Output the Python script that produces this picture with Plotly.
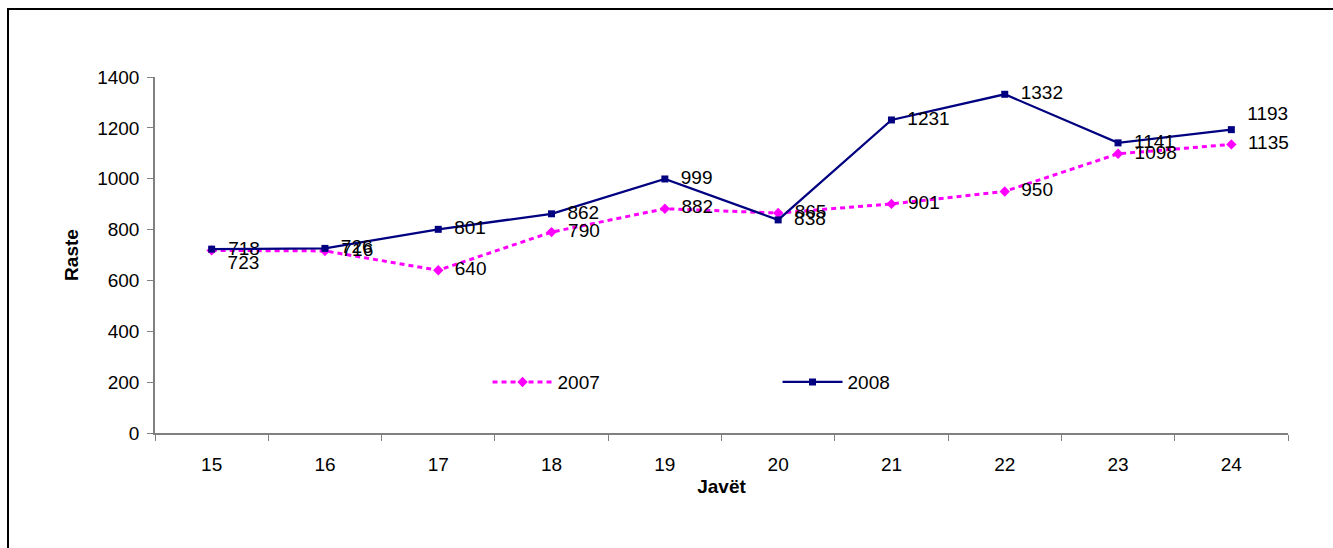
import plotly.graph_objects as go

weeks = ["15", "16", "17", "18", "19", "20", "21", "22", "23", "24"]
cases_2007 = [718, 716, 640, 790, 882, 865, 901, 950, 1098, 1135]
cases_2008 = [723, 726, 801, 862, 999, 838, 1231, 1332, 1141, 1193]
y_ticks = [0, 200, 400, 600, 800, 1000, 1200, 1400]

FONT = "Liberation Sans, Arial, sans-serif"
PAD = "\u00a0\u00a0"

pos_2007 = ["middle right"] * len(weeks)
pos_2008 = ["middle right"] * len(weeks)
pos_2008[0] = "bottom right"
pos_2008[-1] = "top right"

fig = go.Figure()
fig.add_trace(go.Scatter(
    x=weeks, y=cases_2007, name="2007", mode="lines+markers+text",
    line=dict(color="#FF00FF", width=3, dash="5px,4px"),
    marker=dict(symbol="diamond", size=8, color="#FF00FF"),
    text=[PAD + str(v) for v in cases_2007], textposition=pos_2007,
    textfont=dict(family=FONT, size=19, color="black"),
    cliponaxis=False,
))
fig.add_trace(go.Scatter(
    x=weeks, y=cases_2008, name="2008", mode="lines+markers+text",
    line=dict(color="#000080", width=2.25),
    marker=dict(symbol="square", size=7, color="#000080"),
    text=[PAD + str(v) for v in cases_2008], textposition=pos_2008,
    textfont=dict(family=FONT, size=19, color="black"),
    cliponaxis=False,
))

fig.update_layout(
    width=1333, height=548,
    margin=dict(l=155, r=45, t=77, b=115),
    paper_bgcolor="white", plot_bgcolor="white",
    font=dict(family=FONT, size=19, color="black"),
    showlegend=True,
    legend=dict(orientation="h", x=0.2935, y=0.143, xanchor="left", yanchor="middle",
                entrywidth=215, entrywidthmode="pixels",
                bgcolor="rgba(0,0,0,0)", font=dict(family=FONT, size=19),
                itemwidth=60),
    xaxis=dict(type="category", tickson="boundaries", ticks="outside", ticklen=6,
               tickcolor="#808080", showline=True, linecolor="#808080", linewidth=1.5,
               showgrid=False, zeroline=False, ticklabelstandoff=13,
               title=dict(text="<b>Javët</b>", standoff=6, font=dict(size=19)),
               range=[-0.5, 9.5], tickfont=dict(size=19)),
    yaxis=dict(range=[0, 1400], tickvals=y_ticks, ticks="outside", ticklen=6,
               tickcolor="#808080", showline=True, linecolor="#808080", linewidth=1.5,
               showgrid=False, zeroline=False, ticklabelstandoff=4,
               title=dict(text="<b>Raste</b>", standoff=14, font=dict(size=19)),
               tickfont=dict(size=19)),
    shapes=[dict(type="rect", xref="paper", yref="paper",
                 x0=(8 - 155) / 1133, x1=1.2, y0=-0.6, y1=(433 - 9) / 356,
                 line=dict(color="black", width=2), layer="below")],
)

fig.write_html("out.html", config={"displayModeBar": False},
               post_script="document.body.style.margin='0';")
